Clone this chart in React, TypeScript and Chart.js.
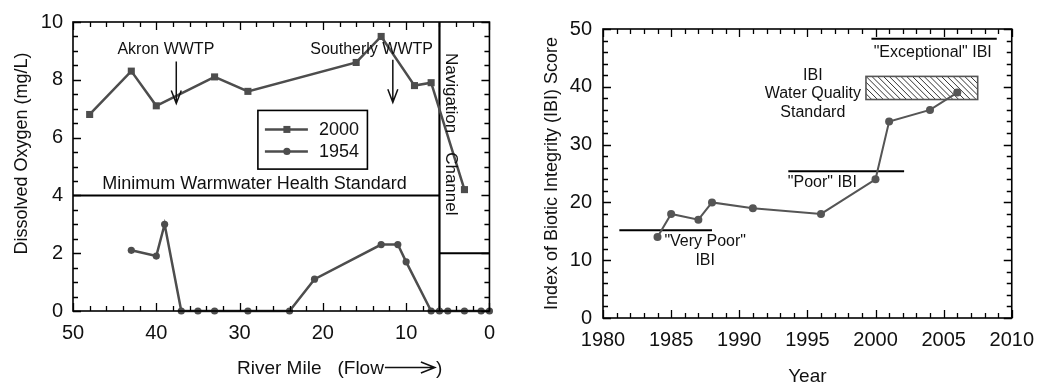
import React, { useEffect, useRef } from "react";
import { Chart, registerables } from "chart.js";

Chart.register(...registerables);

const FONT = "'Liberation Sans', Arial, Helvetica, sans-serif";
const GRAY = "#4d4d4d";
const INK = "#111";

// ---------- Left chart: dissolved oxygen vs river mile ----------
const riverMiles2000 = [48, 43, 40, 33, 29, 16, 13, 9, 7, 3];
const oxygen2000 = [6.8, 8.3, 7.1, 8.1, 7.6, 8.6, 9.5, 7.8, 7.9, 4.2];
const riverMiles1954 = [43, 40, 39, 37, 35, 33, 29, 24, 21, 13, 11, 10, 7, 6, 5, 3, 1, 0];
const oxygen1954 = [2.1, 1.9, 3.0, 0, 0, 0, 0, 0, 1.1, 2.3, 2.3, 1.7, 0, 0, 0, 0, 0, 0];
const minStandardMiles = [50, 6];
const minStandardValue = 4;
const navChannelMile = 6;
const navStandardMiles = [6, 0];
const navStandardValue = 2;
const akronMile = 37.6;
const southerlyMile = 11.6;

// ---------- Right chart: IBI score vs year ----------
const ibiYears = [1984, 1985, 1987, 1988, 1991, 1996, 2000, 2001, 2004, 2006];
const ibiScores = [14, 18, 17, 20, 19, 18, 24, 34, 36, 39];
const veryPoorYears = [1981.2, 1988];
const veryPoorScore = 15.2;
const poorYears = [1993.6, 2002.1];
const poorScore = 25.4;
const exceptionalYears = [1999.7, 2008.9];
const exceptionalScore = 48.3;
const standardBoxYears = [1999.3, 2007.5];
const standardBoxScores = [37.8, 41.8];

function pts(xs: number[], ys: number[]) {
  return xs.map((v, i) => ({ x: v, y: ys[i] }));
}
function flat(xs: number[], v: number) {
  return xs.map((x) => ({ x, y: v }));
}

function drawFrame(chart: any, xMinor: number, xMajor: number, yMinor: number, yMajor: number) {
  const { ctx, chartArea: a } = chart;
  const x = chart.scales.x;
  const y = chart.scales.y;
  ctx.save();
  ctx.strokeStyle = "#000";
  ctx.lineWidth = 1.6;
  ctx.strokeRect(a.left, a.top, a.right - a.left, a.bottom - a.top);
  ctx.lineWidth = 1.3;
  const isMajor = (v: number, step: number) => Math.abs(v / step - Math.round(v / step)) < 1e-6;
  ctx.beginPath();
  for (let v = x.min; v <= x.max + 1e-9; v += xMinor) {
    const px = Math.round(x.getPixelForValue(v)) + 0.5;
    const len = isMajor(v, xMajor) ? 8 : 5;
    ctx.moveTo(px, a.bottom);
    ctx.lineTo(px, a.bottom - len);
    ctx.moveTo(px, a.top);
    ctx.lineTo(px, a.top + len);
  }
  for (let v = y.min; v <= y.max + 1e-9; v += yMinor) {
    const py = Math.round(y.getPixelForValue(v)) + 0.5;
    const len = isMajor(v, yMajor) ? 8 : 5;
    ctx.moveTo(a.left, py);
    ctx.lineTo(a.left + len, py);
    ctx.moveTo(a.right, py);
    ctx.lineTo(a.right - len, py);
  }
  ctx.stroke();
  ctx.restore();
}

function downArrow(ctx: CanvasRenderingContext2D, px: number, y1: number, y2: number) {
  ctx.beginPath();
  ctx.moveTo(px, y1);
  ctx.lineTo(px, y2);
  ctx.moveTo(px - 5, y2 - 13);
  ctx.lineTo(px, y2);
  ctx.lineTo(px + 5, y2 - 13);
  ctx.stroke();
}

const leftDecor = {
  id: "leftDecor",
  afterDatasetsDraw(chart: any) {
    const { ctx, chartArea: a } = chart;
    const x = chart.scales.x;
    const y = chart.scales.y;
    drawFrame(chart, 2, 10, 0.5, 2);
    ctx.save();
    ctx.fillStyle = INK;
    ctx.strokeStyle = INK;
    ctx.textAlign = "center";
    ctx.textBaseline = "middle";

    // WWTP labels and arrows
    ctx.font = `16px ${FONT}`;
    ctx.fillText("Akron WWTP", x.getPixelForValue(38.85), y.getPixelForValue(9.04));
    ctx.fillText("Southerly WWTP", x.getPixelForValue(14.15), y.getPixelForValue(9.04));
    ctx.lineWidth = 1.5;
    downArrow(ctx, x.getPixelForValue(akronMile), y.getPixelForValue(8.63), y.getPixelForValue(7.18));
    downArrow(ctx, x.getPixelForValue(southerlyMile), y.getPixelForValue(8.69), y.getPixelForValue(7.22));

    // standard label
    ctx.font = `18px ${FONT}`;
    ctx.fillText("Minimum Warmwater Health Standard", x.getPixelForValue(28.2), y.getPixelForValue(4.4));

    // navigation channel (rotated)
    ctx.font = `17px ${FONT}`;
    const nx = x.getPixelForValue(4.6);
    [["Navigation", 7.54], ["Channel", 4.4]].forEach(([t, v]) => {
      ctx.save();
      ctx.translate(nx, y.getPixelForValue(v as number));
      ctx.rotate(Math.PI / 2);
      ctx.fillText(t as string, 0, 0);
      ctx.restore();
    });

    // legend
    const L = x.getPixelForValue(27.8);
    const R = x.getPixelForValue(14.65);
    const T = y.getPixelForValue(6.94);
    const B = y.getPixelForValue(4.91);
    ctx.fillStyle = "#fff";
    ctx.fillRect(L, T, R - L, B - T);
    ctx.strokeStyle = "#000";
    ctx.lineWidth = 1.6;
    ctx.strokeRect(L, T, R - L, B - T);
    const entries: [string, string, number][] = [
      ["2000", "rect", T + 19],
      ["1954", "circle", T + 41],
    ];
    entries.forEach(([label, shape, ey]) => {
      ctx.strokeStyle = GRAY;
      ctx.fillStyle = GRAY;
      ctx.lineWidth = 2.5;
      ctx.beginPath();
      ctx.moveTo(L + 7, ey);
      ctx.lineTo(L + 50, ey);
      ctx.stroke();
      if (shape === "rect") ctx.fillRect(L + 29 - 3.5, ey - 3.5, 7, 7);
      else {
        ctx.beginPath();
        ctx.arc(L + 29, ey, 3.6, 0, Math.PI * 2);
        ctx.fill();
      }
      ctx.fillStyle = INK;
      ctx.font = `18px ${FONT}`;
      ctx.textAlign = "left";
      ctx.fillText(label, L + 61, ey + 1);
    });

    // axis titles
    ctx.fillStyle = INK;
    ctx.strokeStyle = INK;
    ctx.font = `18px ${FONT}`;
    ctx.textAlign = "center";
    ctx.save();
    ctx.translate(a.left - 51, (a.top + a.bottom) / 2 - 13);
    ctx.rotate(-Math.PI / 2);
    ctx.fillText("Dissolved Oxygen (mg/L)", 0, 0);
    ctx.restore();

    ctx.font = `19px ${FONT}`;
    ctx.textAlign = "left";
    ctx.textBaseline = "alphabetic";
    const base = a.bottom + 63;
    let cx = 237;
    ctx.fillText("River Mile", cx, base);
    cx += ctx.measureText("River Mile").width + 16;
    ctx.fillText("(Flow", cx, base);
    cx += ctx.measureText("(Flow").width + 1;
    const ax2 = cx + 50;
    ctx.lineWidth = 1.5;
    ctx.beginPath();
    ctx.moveTo(cx, base - 6.5);
    ctx.lineTo(ax2, base - 6.5);
    ctx.moveTo(ax2 - 14, base - 12);
    ctx.lineTo(ax2, base - 6.5);
    ctx.lineTo(ax2 - 14, base - 1);
    ctx.stroke();
    ctx.fillText(")", ax2 + 1, base);
    ctx.restore();
  },
};

const rightDecor = {
  id: "rightDecor",
  beforeDatasetsDraw(chart: any) {
    const { ctx } = chart;
    const x = chart.scales.x;
    const y = chart.scales.y;
    const L = x.getPixelForValue(standardBoxYears[0]);
    const R = x.getPixelForValue(standardBoxYears[1]);
    const T = y.getPixelForValue(standardBoxScores[1]);
    const B = y.getPixelForValue(standardBoxScores[0]);
    ctx.save();
    ctx.fillStyle = "#fff";
    ctx.fillRect(L, T, R - L, B - T);
    ctx.beginPath();
    ctx.rect(L, T, R - L, B - T);
    ctx.clip();
    ctx.strokeStyle = "#333";
    ctx.lineWidth = 1;
    const h = B - T;
    ctx.beginPath();
    for (let k = -h; k < R - L + h; k += 5.8) {
      ctx.moveTo(L + k, T);
      ctx.lineTo(L + k + h, B);
    }
    ctx.stroke();
    ctx.restore();
    ctx.save();
    ctx.strokeStyle = "#555";
    ctx.lineWidth = 1.6;
    ctx.strokeRect(L, T, R - L, B - T);
    ctx.restore();
  },
  afterDatasetsDraw(chart: any) {
    const { ctx, chartArea: a } = chart;
    const x = chart.scales.x;
    const y = chart.scales.y;
    drawFrame(chart, 1, 5, 2, 10);
    ctx.save();
    ctx.fillStyle = INK;
    ctx.textAlign = "center";
    ctx.textBaseline = "middle";
    ctx.font = `16px ${FONT}`;
    ctx.fillText("IBI", x.getPixelForValue(1995.4), y.getPixelForValue(42.0));
    ctx.fillText("Water Quality", x.getPixelForValue(1995.4), y.getPixelForValue(38.75));
    ctx.fillText("Standard", x.getPixelForValue(1995.4), y.getPixelForValue(35.6));
    ctx.fillText('"Exceptional" IBI', x.getPixelForValue(2004.2), y.getPixelForValue(46.0));
    ctx.fillText('"Poor" IBI', x.getPixelForValue(1996.1), y.getPixelForValue(23.4));
    ctx.fillText('"Very Poor"', x.getPixelForValue(1987.5), y.getPixelForValue(13.15));
    ctx.fillText("IBI", x.getPixelForValue(1987.5), y.getPixelForValue(10.0));

    ctx.font = `18px ${FONT}`;
    ctx.save();
    ctx.translate(a.left - 51, (a.top + a.bottom) / 2);
    ctx.rotate(-Math.PI / 2);
    ctx.fillText("Index of Biotic Integrity (IBI) Score", 0, 0);
    ctx.restore();
    ctx.textBaseline = "alphabetic";
    ctx.font = `19px ${FONT}`;
    ctx.fillText("Year", (a.left + a.right) / 2, a.bottom + 64);
    ctx.restore();
  },
};

function axisBase(extra: any) {
  return {
    type: "linear",
    grid: { display: false, drawTicks: false },
    border: { display: false },
    ...extra,
  };
}

function leftConfig(): any {
  return {
    type: "line",
    data: {
      datasets: [
        {
          label: "1954",
          data: pts(riverMiles1954, oxygen1954),
          borderColor: GRAY,
          backgroundColor: GRAY,
          borderWidth: 2.5,
          pointStyle: "circle",
          pointRadius: 3.6,
          pointBorderWidth: 0,
          clip: false,
        },
        {
          label: "2000",
          data: pts(riverMiles2000, oxygen2000),
          borderColor: GRAY,
          backgroundColor: GRAY,
          borderWidth: 2.5,
          pointStyle: "rect",
          pointRadius: 5,
          pointBorderWidth: 0,
          clip: false,
        },
        {
          label: "Minimum standard",
          data: flat(minStandardMiles, minStandardValue),
          borderColor: "#000",
          borderWidth: 2,
          pointRadius: 0,
        },
        {
          label: "Navigation channel",
          data: [
            { x: navChannelMile, y: 0 },
            { x: navChannelMile, y: 10 },
          ],
          borderColor: "#000",
          borderWidth: 2.2,
          pointRadius: 0,
        },
        {
          label: "Navigation standard",
          data: flat(navStandardMiles, navStandardValue),
          borderColor: "#000",
          borderWidth: 2,
          pointRadius: 0,
        },
      ],
    },
    options: {
      responsive: false,
      animation: false,
      devicePixelRatio: 1,
      layout: { padding: { left: 0, top: 20, right: 15, bottom: 0 } },
      plugins: { legend: { display: false }, tooltip: { enabled: false }, title: { display: false } },
      scales: {
        x: axisBase({
          min: 0,
          max: 50,
          reverse: true,
          ticks: { stepSize: 10, padding: 10, color: INK, font: { family: FONT, size: 20 } },
          afterFit: (s: any) => {
            s.height = 72;
          },
        }),
        y: axisBase({
          min: 0,
          max: 10,
          ticks: { stepSize: 2, padding: 10, color: INK, font: { family: FONT, size: 20 } },
          afterFit: (s: any) => {
            s.width = 73;
          },
        }),
      },
    },
    plugins: [leftDecor],
  };
}

function rightConfig(): any {
  return {
    type: "line",
    data: {
      datasets: [
        {
          label: "IBI",
          data: pts(ibiYears, ibiScores),
          borderColor: "#555",
          backgroundColor: "#555",
          borderWidth: 2,
          pointStyle: "circle",
          pointRadius: 4,
          pointBorderWidth: 0,
          clip: false,
        },
        {
          label: "Very Poor",
          data: flat(veryPoorYears, veryPoorScore),
          borderColor: "#000",
          borderWidth: 2,
          pointRadius: 0,
        },
        {
          label: "Poor",
          data: flat(poorYears, poorScore),
          borderColor: "#000",
          borderWidth: 2,
          pointRadius: 0,
        },
        {
          label: "Exceptional",
          data: flat(exceptionalYears, exceptionalScore),
          borderColor: "#000",
          borderWidth: 2,
          pointRadius: 0,
        },
      ],
    },
    options: {
      responsive: false,
      animation: false,
      devicePixelRatio: 1,
      layout: { padding: { left: 0, top: 29, right: 24, bottom: 0 } },
      plugins: { legend: { display: false }, tooltip: { enabled: false }, title: { display: false } },
      scales: {
        x: axisBase({
          min: 1980,
          max: 2010,
          ticks: {
            stepSize: 5,
            padding: 10,
            color: INK,
            font: { family: FONT, size: 20 },
            callback: (v: any) => String(v),
          },
          afterFit: (s: any) => {
            s.height = 65;
          },
        }),
        y: axisBase({
          min: 0,
          max: 50,
          ticks: { stepSize: 10, padding: 11, color: INK, font: { family: FONT, size: 20 } },
          afterFit: (s: any) => {
            s.width = 98;
          },
        }),
      },
    },
    plugins: [rightDecor],
  };
}

export default function App() {
  const leftRef = useRef<HTMLCanvasElement>(null);
  const rightRef = useRef<HTMLCanvasElement>(null);
  useEffect(() => {
    const c1 = new Chart(leftRef.current as HTMLCanvasElement, leftConfig());
    const c2 = new Chart(rightRef.current as HTMLCanvasElement, rightConfig());
    return () => {
      c1.destroy();
      c2.destroy();
    };
  }, []);
  return (
    <div style={{ position: "absolute", left: 0, top: 0, width: 1044, height: 383, background: "#fff" }}>
      <canvas
        ref={leftRef}
        width={505}
        height={383}
        style={{ position: "absolute", left: 0, top: 0, width: 505, height: 383 }}
      />
      <canvas
        ref={rightRef}
        width={539}
        height={383}
        style={{ position: "absolute", left: 505, top: 0, width: 539, height: 383 }}
      />
    </div>
  );
}
